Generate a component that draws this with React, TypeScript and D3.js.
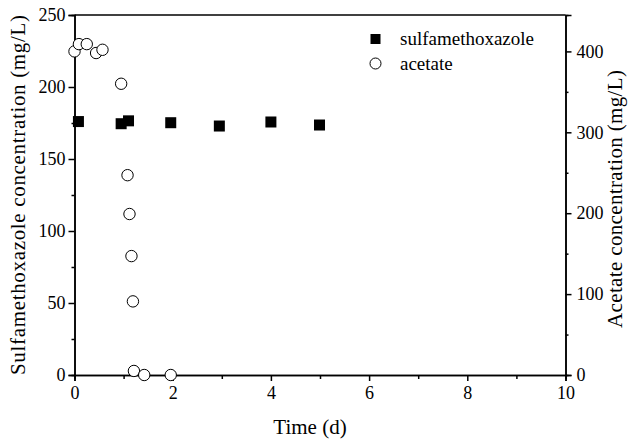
import { useEffect, useRef } from 'react'
import * as d3 from 'd3'

const smxTime = [0.08, 0.95, 1.1, 1.96, 2.95, 4.0, 4.99]
const smxConc = [176, 174.5, 176.5, 175.2, 172.9, 175.7, 173.6]

const acetateTime = [0, 0.09, 0.25, 0.44, 0.57, 0.95, 1.08, 1.12, 1.16, 1.19, 1.21, 1.42, 1.96]
const acetateConc = [400, 409, 409, 398, 402, 360, 247, 199, 147, 91, 5, 0, 0]

const xTicks = [0, 2, 4, 6, 8, 10]
const xMinor = [1, 3, 5, 7, 9]
const leftTicks = [0, 50, 100, 150, 200, 250]
const leftMinor = [25, 75, 125, 175, 225]
const rightTicks = [0, 100, 200, 300, 400]
const rightMinor = [50, 150, 250, 350]

const legendItems = ['sulfamethoxazole', 'acetate']

const FONT = 'Liberation Serif, Times New Roman, Times, serif'

export default function App() {
    const svgRef = useRef<SVGSVGElement>(null)

    useEffect(() => {
        const svg = d3.select(svgRef.current)
        svg.selectAll('*').remove()
        svg.attr('font-family', FONT)

        const left = 74.5, right = 565.5, top = 15, bottom = 375

        const x = d3.scaleLinear().domain([0, 10]).range([left, right])
        const yL = d3.scaleLinear().domain([0, 250]).range([bottom, top])
        const yR = d3.scaleLinear().domain([0, 445]).range([bottom, top])

        const styleAxis = (g: any) => {
            g.attr('font-family', FONT).attr('font-size', 18)
            g.select('.domain').attr('stroke', '#000').attr('stroke-width', 1.5)
            g.selectAll('line').attr('stroke', '#000').attr('stroke-width', 1.5)
            g.selectAll('text').attr('fill', '#000')
        }

        // top border
        svg.append('line')
            .attr('x1', left).attr('x2', right)
            .attr('y1', top).attr('y2', top)
            .attr('stroke', '#000').attr('stroke-width', 1.5)

        // bottom axis
        svg.append('g')
            .attr('transform', `translate(0,${bottom})`)
            .call(d3.axisBottom(x).tickValues(xMinor).tickSize(4).tickFormat(() => ''))
            .call(styleAxis)
        svg.append('g')
            .attr('transform', `translate(0,${bottom})`)
            .call(d3.axisBottom(x).tickValues(xTicks).tickSize(6).tickPadding(5).tickFormat(d3.format('d')))
            .call(styleAxis)

        // left axis
        svg.append('g')
            .attr('transform', `translate(${left},0)`)
            .call(d3.axisLeft(yL).tickValues(leftMinor).tickSize(3).tickFormat(() => ''))
            .call(styleAxis)
        svg.append('g')
            .attr('transform', `translate(${left},0)`)
            .call(d3.axisLeft(yL).tickValues(leftTicks).tickSize(6).tickPadding(3).tickFormat(d3.format('d')))
            .call(styleAxis)

        // right axis
        svg.append('g')
            .attr('transform', `translate(${right},0)`)
            .call(d3.axisRight(yR).tickValues(rightMinor).tickSize(3).tickFormat(() => ''))
            .call(styleAxis)
        svg.append('g')
            .attr('transform', `translate(${right},0)`)
            .call(d3.axisRight(yR).tickValues(rightTicks).tickSize(6).tickPadding(5).tickFormat(d3.format('d')))
            .call(styleAxis)

        // sulfamethoxazole squares
        const sq = 11
        svg.append('g')
            .selectAll('rect')
            .data(smxTime.map((t, i) => ({ t, v: smxConc[i] })))
            .enter().append('rect')
            .attr('x', d => x(d.t) - sq / 2)
            .attr('y', d => yL(d.v) - sq / 2)
            .attr('width', sq)
            .attr('height', sq)
            .attr('fill', '#000')

        // acetate circles
        svg.append('g')
            .selectAll('circle')
            .data(acetateTime.map((t, i) => ({ t, v: acetateConc[i] })))
            .enter().append('circle')
            .attr('cx', d => x(d.t))
            .attr('cy', d => yR(d.v))
            .attr('r', 5.7)
            .attr('fill', '#fff')
            .attr('stroke', '#000')
            .attr('stroke-width', 1)

        // legend
        const lg = svg.append('g')
        lg.append('rect')
            .attr('x', 375.5 - 5).attr('y', 39 - 5)
            .attr('width', 10).attr('height', 10)
            .attr('fill', '#000')
        lg.append('circle')
            .attr('cx', 375.5).attr('cy', 63.5).attr('r', 5.5)
            .attr('fill', '#fff').attr('stroke', '#000').attr('stroke-width', 1)
        lg.selectAll('text')
            .data(legendItems)
            .enter().append('text')
            .attr('x', 400)
            .attr('y', (d, i) => 45 + i * 24.5)
            .attr('font-size', 19)
            .text(d => d)

        // axis titles
        svg.append('text')
            .attr('x', 310).attr('y', 434)
            .attr('text-anchor', 'middle')
            .attr('font-size', 21)
            .text('Time (d)')

        svg.append('text')
            .attr('transform', 'translate(25,195) rotate(-90)')
            .attr('text-anchor', 'middle')
            .attr('textLength', 360)
            .attr('lengthAdjust', 'spacing')
            .attr('font-size', 21)
            .text('Sulfamethoxazole concentration (mg/L)')

        svg.append('text')
            .attr('transform', 'translate(622,199) rotate(-90)')
            .attr('text-anchor', 'middle')
            .attr('textLength', 258)
            .attr('lengthAdjust', 'spacing')
            .attr('font-size', 21)
            .text('Acetate concentration (mg/L)')
    }, [])

    return (
        <svg
            ref={svgRef}
            width={628}
            height={439}
            style={{ position: 'absolute', left: 0, top: 0, background: '#fff' }}
        />
    )
}
